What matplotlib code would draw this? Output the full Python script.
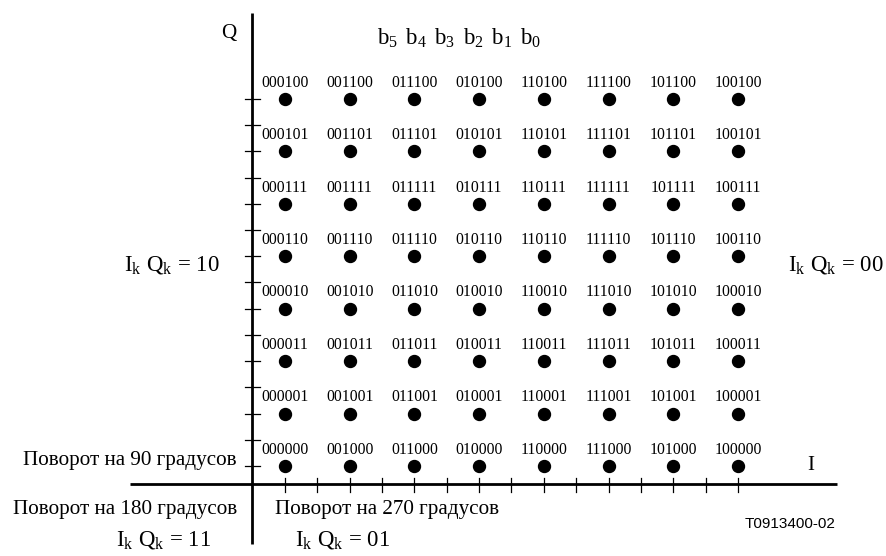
import matplotlib
matplotlib.use("Agg")
import matplotlib.pyplot as plt

# ---- data ----
gray_bits = ["000", "001", "011", "010", "110", "111", "101", "100"]  # b5b4b3 (I) and b2b1b0 (Q) Gray order
i_levels = list(range(8))   # column index (I)
q_levels = list(range(8))   # row index (Q), 0 = bottom
tick_positions = [k / 2 for k in range(15)]

quadrant_labels = {
    "10": r"I$_\mathrm{k}$ Q$_\mathrm{k}$ = 10",
    "00": r"I$_\mathrm{k}$ Q$_\mathrm{k}$ = 00",
    "11": r"I$_\mathrm{k}$ Q$_\mathrm{k}$ = 11",
    "01": r"I$_\mathrm{k}$ Q$_\mathrm{k}$ = 01",
}
rot90 = "Поворот на 90 градусов"
rot180 = "Поворот на 180 градусов"
rot270 = "Поворот на 270 градусов"
bits_title = r"b$_5\,$ b$_4\,$ b$_3\,$ b$_2\,$ b$_1\,$ b$_0$"
figure_id = "T0913400-02"

plt.rcParams["font.family"] = ["Liberation Serif", "DejaVu Serif"]
plt.rcParams["mathtext.fontset"] = "custom"
plt.rcParams["mathtext.rm"] = "Liberation Serif"
plt.rcParams["mathtext.it"] = "Liberation Serif:italic"

fig = plt.figure(figsize=(8.87, 5.56), dpi=100)
ax = fig.add_axes([0, 0, 1, 1])
ax.set_xlim(-4.404, 9.303)
ax.set_ylim(-1.7166, 8.888)
ax.axis("off")

# axes lines
ax.plot([-0.51, -0.51], [-1.488, 8.64], color="black", lw=2.0, solid_capstyle="butt")
ax.plot([-2.395, 8.53], [-0.343, -0.343], color="black", lw=2.0, solid_capstyle="butt")

# ticks
for t in tick_positions:
    ax.plot([t, t], [-0.343 - 0.15, -0.343 + 0.11], color="black", lw=0.9)
    ax.plot([-0.51 - 0.11, -0.51 + 0.12], [t, t], color="black", lw=0.9)

# points and labels
xs, ys = [], []
for i in i_levels:
    for q in q_levels:
        xs.append(i)
        ys.append(q)
        ax.text(i, q + 0.235, gray_bits[i] + gray_bits[q], ha="center", va="baseline",
                fontsize=11.3)
ax.plot(xs, ys, "o", color="black", markersize=8.6, linestyle="none")

fs = 15.25
fq = 16.5
ax.text(-0.75, 8.17, "Q", ha="right", va="baseline", fontsize=fs)
ax.text(2.689, 8.03, bits_title, ha="center", va="baseline", fontsize=16.5)
ax.text(-1.005, 3.738, quadrant_labels["10"], ha="right", va="baseline", fontsize=fq)
ax.text(7.773, 3.738, quadrant_labels["00"], ha="left", va="baseline", fontsize=fq)
ax.text(-0.742, 0.019, rot90, ha="right", va="baseline", fontsize=fs)
ax.text(-0.742, -0.9155, rot180, ha="right", va="baseline", fontsize=fs)
ax.text(-0.1545, -0.9155, rot270, ha="left", va="baseline", fontsize=fs)
ax.text(-1.878, -1.507, quadrant_labels["11"], ha="center", va="baseline", fontsize=fq)
ax.text(0.896, -1.507, quadrant_labels["01"], ha="center", va="baseline", fontsize=fq)
ax.text(8.128, -0.076, "I", ha="center", va="baseline", fontsize=fs)
ax.text(7.109, -1.1825, figure_id, ha="left", va="baseline", fontsize=11,
        family=["Liberation Sans", "DejaVu Sans"])

fig.savefig("out.png", dpi=100)
